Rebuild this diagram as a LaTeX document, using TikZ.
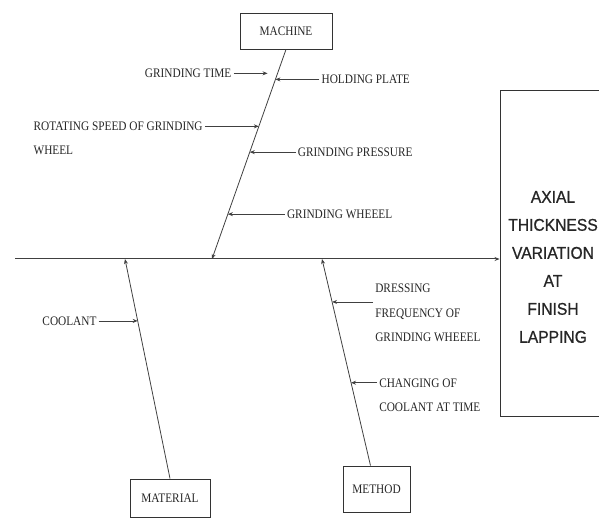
\documentclass[tikz,border=0pt]{standalone}
\usepackage{fontspec}
\newfontfamily\causefont[FakeStretch=0.87]{Liberation Serif}
\newfontfamily\effectfont[FakeStretch=0.92,FakeBold=0.8]{Liberation Sans}
\usetikzlibrary{positioning,calc,arrows.meta}

\tikzset{
  bone/.style={draw=black!75, line width=0.8pt},
  causetip/.style={-{Stealth[length=5pt,width=4pt]}},
  causearrow/.style={bone, causetip},
  catbox/.style={draw=black!80, line width=0.9pt, text=black!85, inner sep=0pt,
    font=\causefont\fontsize{13}{24.5}\selectfont},
  causetext/.style={text=black!85, align=left, inner sep=2pt,
    font=\causefont\fontsize{13}{24.5}\selectfont},
}

\begin{document}
\begin{tikzpicture}[x=1pt,y=1pt]
    \useasboundingbox (0,0) rectangle (599,532);
    \clip (0,0) rectangle (599,532);

    % category boxes
    \node[catbox, minimum width=92pt, minimum height=36pt] (machine) at (286,501) {MACHINE};
    \node[catbox, minimum width=80pt, minimum height=38pt] (material) at (170,34) {MATERIAL};
    \node[catbox, minimum width=67pt, minimum height=46pt] (method) at (376.5,43) {METHOD};

    % effect box (runs off the right edge)
    \node[draw=black!80, line width=0.9pt, minimum width=110pt, minimum height=326pt] (effect) at (555,279) {};
    \node[font=\effectfont\fontsize{17}{28}\selectfont, text=black!85, align=center] (effecttext) at (553,265)
        {AXIAL\\THICKNESS\\VARIATION\\AT\\FINISH\\LAPPING};

    % spine
    \coordinate (tail) at (15,273);
    \draw[bone, line width=1pt, causetip] (tail) -- (tail -| effect.west);

    % bones
    \coordinate (mjoin) at (212,273);
    \coordinate (matjoin) at (125,273);
    \coordinate (methjoin) at (322,273);
    \coordinate (methtop) at ($(method.north)+(-6,0)$);
    \draw[causearrow] (machine.south) -- (mjoin);
    \draw[causearrow] (material.north) -- (matjoin);
    \draw[causearrow] (methtop) -- (methjoin);

    % machine causes
    \coordinate (m1) at ($(machine.south)!0.114!(mjoin)$);
    \coordinate (m2) at ($(machine.south)!0.143!(mjoin)$);
    \coordinate (m3) at ($(machine.south)!0.367!(mjoin)$);
    \coordinate (m4) at ($(machine.south)!0.490!(mjoin)$);
    \coordinate (m5) at ($(machine.south)!0.786!(mjoin)$);

    \node[causetext, left=44pt of m1] (gtime) {GRINDING TIME};
    \node[causetext, right=44pt of m2] (hplate) {HOLDING PLATE};
    \node[causetext, left=54pt of m3, yshift=-12pt] (rspeed) {ROTATING SPEED OF GRINDING\\WHEEL};
    \node[causetext, right=46pt of m4] (gpress) {GRINDING PRESSURE};
    \node[causetext, right=57pt of m5] (gwheel) {GRINDING WHEEEL};

    \draw[causearrow, shorten >=10pt] (gtime) -- (m1);
    \draw[causearrow] (hplate) -- (m2);
    \draw[causearrow] (m3 -| rspeed.east) -- (m3);
    \draw[causearrow] (gpress) -- (m4);
    \draw[causearrow] (gwheel) -- (m5);

    % material causes
    \coordinate (a1) at ($(material.north)!0.718!(matjoin)$);
    \node[causetext, left=39pt of a1] (coolant) {COOLANT};
    \draw[causearrow] (coolant) -- (a1);

    % method causes
    \coordinate (t1) at ($(methtop)!0.792!(methjoin)$);
    \coordinate (t2) at ($(methtop)!0.401!(methjoin)$);
    \node[causetext, right=41pt of t1, yshift=-11pt] (dressing) {DRESSING\\FREQUENCY OF\\GRINDING WHEEEL};
    \node[causetext, right=26pt of t2, yshift=-12.5pt] (changing) {CHANGING OF\\COOLANT AT TIME};
    \draw[causearrow] (t1 -| dressing.west) -- (t1);
    \draw[causearrow] (t2 -| changing.west) -- (t2);
\end{tikzpicture}
\end{document}
